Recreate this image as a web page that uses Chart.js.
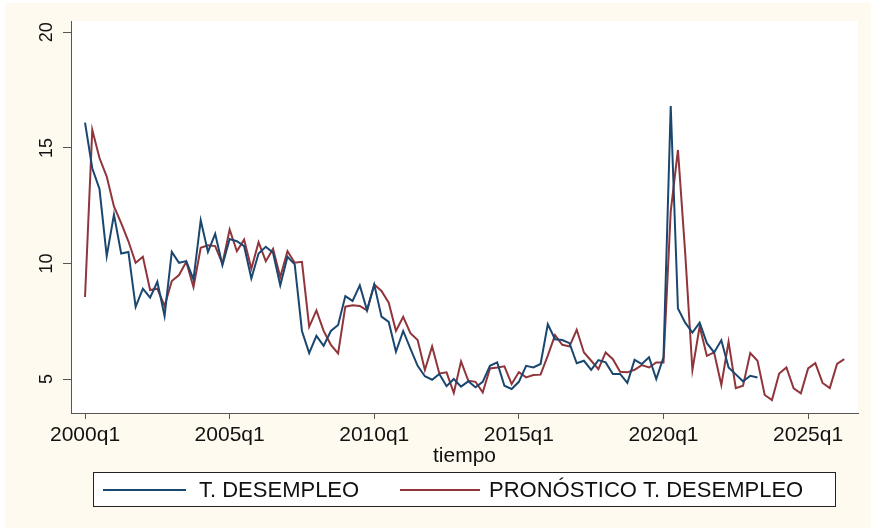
<!DOCTYPE html>
<html>
<head>
<meta charset="utf-8">
<script src="https://cdn.jsdelivr.net/npm/chart.js@4.4.1/dist/chart.umd.min.js"></script>
<style>
  body { margin: 0; background: #ffffff; }
  #myChart { display: block; }
</style>
</head>
<body>
<canvas id="myChart" width="871" height="528"></canvas>
<script>
// quarterly series, index 0 = 2000q1
const desempleo = [
  16.09, 14.12, 13.22, 10.32, 12.11, 10.43, 10.5, 8.12, 8.91, 8.52,
  9.21, 7.73, 10.5, 10.03, 10.1, 9.31, 11.87, 10.5, 11.28, 9.93,
  11.06, 10.96, 10.75, 9.35, 10.43, 10.72, 10.46, 9.05, 10.29, 9.96,
  7.08, 6.12, 6.87, 6.44, 7.08, 7.34, 8.59, 8.38, 9.05, 7.97,
  9.09, 7.7, 7.47, 6.18, 7.08, 6.32, 5.57, 5.12, 4.97, 5.22,
  4.69, 5.0, 4.67, 4.9, 4.64, 4.88, 5.57, 5.72, 4.71, 4.57,
  4.88, 5.57, 5.5, 5.65, 7.37, 6.72, 6.69, 6.55, 5.68, 5.79,
  5.4, 5.82, 5.72, 5.22, 5.22, 4.83, 5.83, 5.65, 5.94, 5.0,
  5.94, 16.81, 8.05, 7.44, 7.01, 7.44, 6.55, 6.15, 6.68, 5.5,
  5.2, 4.9, 5.14, 5.07
];
const pronostico = [
  8.55, 15.78, 14.56, 13.76, 12.47, 11.75, 10.96, 10.03, 10.29, 8.85,
  8.91, 8.16, 9.24, 9.5, 10.07, 8.98, 10.68, 10.79, 10.75, 9.99,
  11.47, 10.53, 11.03, 9.77, 10.92, 10.1, 10.63, 9.41, 10.53, 10.03,
  10.07, 7.26, 7.97, 7.08, 6.48, 6.11, 8.13, 8.19, 8.16, 7.97,
  9.09, 8.81, 8.3, 7.08, 7.69, 6.98, 6.69, 5.39, 6.41, 5.24,
  5.29, 4.4, 5.76, 4.93, 4.88, 4.42, 5.46, 5.5, 5.55, 4.78,
  5.3, 5.07, 5.17, 5.19, 6.01, 6.9, 6.48, 6.41, 7.13, 6.15,
  5.79, 5.43, 6.15, 5.86, 5.31, 5.29, 5.4, 5.6, 5.5, 5.72,
  5.72, 12.25, 14.91, 10.46, 5.39, 7.27, 6.0, 6.15, 4.74, 6.61,
  4.6, 4.71, 6.12, 5.79, 4.31, 4.09, 5.24, 5.5, 4.6, 4.38,
  5.46, 5.69, 4.83, 4.61, 5.65, 5.86
];
const serieLabels = ['T. DESEMPLEO', 'PRONÓSTICO T. DESEMPLEO'];
const tickQuarters = [0, 20, 40, 60, 80, 100];
const tickLabels = ['2000q1', '2005q1', '2010q1', '2015q1', '2020q1', '2025q1'];
const yTicks = [5, 10, 15, 20];
const xTitle = 'tiempo';

const navy = '#1a476f';
const maroon = '#90353b';
const axisColor = '#555555';
const cream = '#fefaf0';

function toPoints(values) {
  return values.map((v, i) => ({ x: i, y: v }));
}

// background, white plot region, rotated y labels, axis title and boxed legend
const stataLook = {
  id: 'stataLook',
  beforeDraw(chart) {
    const ctx = chart.ctx;
    const a = chart.chartArea;
    ctx.save();
    ctx.fillStyle = '#ffffff';
    ctx.fillRect(0, 0, chart.width, chart.height);
    ctx.fillStyle = cream;
    ctx.fillRect(5, 3, chart.width - 5, chart.height - 3);
    ctx.fillStyle = '#ffffff';
    ctx.fillRect(a.left, a.top, a.right - a.left, a.bottom - a.top);
    ctx.restore();
  },
  afterDraw(chart) {
    const ctx = chart.ctx;
    const yScale = chart.scales.y;
    ctx.save();
    ctx.fillStyle = '#111111';
    ctx.font = '18px "Liberation Sans", Arial, sans-serif';
    ctx.textAlign = 'center';
    ctx.textBaseline = 'alphabetic';
    yTicks.forEach(v => {
      const y = yScale.getPixelForValue(v);
      ctx.save();
      ctx.translate(52, y);
      ctx.rotate(-Math.PI / 2);
      ctx.fillText(String(v), 0, 0);
      ctx.restore();
    });

    const a = chart.chartArea;
    ctx.font = '21px "Liberation Sans", Arial, sans-serif';
    ctx.fillText(xTitle, (a.left + a.right) / 2, 462);

    // legend box
    ctx.fillStyle = '#ffffff';
    ctx.fillRect(93.5, 472.5, 742, 34);
    ctx.strokeStyle = '#222222';
    ctx.lineWidth = 1;
    ctx.strokeRect(93.5, 472.5, 742, 34);
    const items = [
      { x0: 103, x1: 186, tx: 199 },
      { x0: 400, x1: 480, tx: 489 }
    ];
    ctx.font = '22px "Liberation Sans", Arial, sans-serif';
    chart.data.datasets.forEach((ds, i) => {
      const it = items[i];
      ctx.strokeStyle = ds.borderColor;
      ctx.lineWidth = 2;
      ctx.beginPath();
      ctx.moveTo(it.x0, 490);
      ctx.lineTo(it.x1, 490);
      ctx.stroke();
      ctx.fillStyle = '#111111';
      ctx.textAlign = 'left';
      ctx.fillText(ds.label, it.tx, 497);
    });
    ctx.restore();
  }
};

const ctx = document.getElementById('myChart').getContext('2d');
const myChart = new Chart(ctx, {
  type: 'line',
  data: {
    datasets: [
      {
        label: serieLabels[0],
        data: toPoints(desempleo),
        borderColor: navy,
        backgroundColor: navy,
        borderWidth: 2,
        pointRadius: 0,
        tension: 0,
        fill: false
      },
      {
        label: serieLabels[1],
        data: toPoints(pronostico),
        borderColor: maroon,
        backgroundColor: maroon,
        borderWidth: 2,
        pointRadius: 0,
        tension: 0,
        fill: false
      }
    ]
  },
  options: {
    responsive: false,
    animation: false,
    devicePixelRatio: 1,
    layout: { padding: { left: 0, top: 21, right: 13, bottom: 0 } },
    plugins: {
      legend: { display: false },
      tooltip: { enabled: false }
    },
    scales: {
      x: {
        type: 'linear',
        min: -1.94,
        max: 106.9,
        afterBuildTicks: scale => {
          scale.ticks = tickQuarters.map(v => ({ value: v }));
        },
        afterFit: scale => { scale.height = 115; },
        ticks: {
          autoSkip: false,
          maxRotation: 0,
          minRotation: 0,
          padding: 4,
          color: '#111111',
          font: { family: '"Liberation Sans", Arial, sans-serif', size: 21 },
          callback: function (value) {
            const idx = tickQuarters.indexOf(value);
            return idx >= 0 ? tickLabels[idx] : '';
          }
        },
        grid: {
          drawOnChartArea: false,
          drawTicks: true,
          tickLength: 6,
          color: axisColor
        },
        border: { display: true, color: axisColor, width: 1 }
      },
      y: {
        type: 'linear',
        min: 3.53,
        max: 20.49,
        afterBuildTicks: scale => {
          scale.ticks = yTicks.map(v => ({ value: v }));
        },
        afterFit: scale => { scale.width = 71; },
        ticks: { display: false },
        grid: {
          drawOnChartArea: false,
          drawTicks: true,
          tickLength: 8,
          color: axisColor
        },
        border: { display: true, color: axisColor, width: 1 }
      }
    }
  },
  plugins: [stataLook]
});
</script>
</body>
</html>
